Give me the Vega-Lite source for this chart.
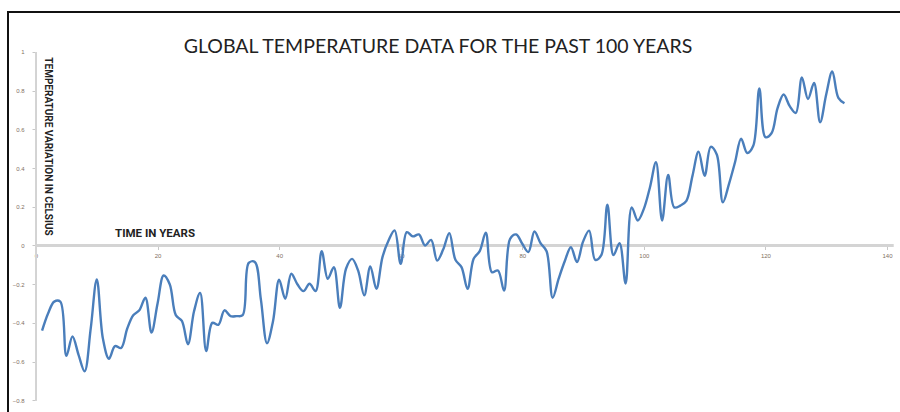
{
  "$schema": "https://vega.github.io/schema/vega-lite/v6.json",
  "width": 900,
  "height": 412,
  "autosize": {"type": "fit", "contains": "padding"},
  "padding": {"left": 8, "top": 12, "right": -2, "bottom": -2},
  "background": "white",
  "config": {
    "view": {"stroke": "#111111", "strokeWidth": 2},
    "axis": {"grid": false, "domain": false, "labelFont": "Liberation Sans", "labelFontSize": 6, "labelColor": "#7f6f62", "tickColor": "#c8c8c8", "tickSize": 4, "titleFont": "Roboto", "titleColor": "#222222"}
  },
  "title": {
    "text": "GLOBAL TEMPERATURE DATA FOR THE PAST 100 YEARS",
    "font": "Lato",
    "fontSize": 19.5,
    "fontWeight": "normal",
    "color": "#222222",
    "anchor": "middle",
    "baseline": "alphabetic",
    "offset": -60,
    "dx": -17
  },
  "data": {
    "values": [
      {"year": 1, "temp": -0.44}, {"year": 2, "temp": -0.35}, {"year": 3, "temp": -0.29}, {"year": 4, "temp": -0.29},
      {"year": 5, "temp": -0.57}, {"year": 6, "temp": -0.47}, {"year": 7, "temp": -0.565}, {"year": 8, "temp": -0.65},
      {"year": 9, "temp": -0.43}, {"year": 10, "temp": -0.175}, {"year": 11, "temp": -0.48}, {"year": 12, "temp": -0.585},
      {"year": 13, "temp": -0.52}, {"year": 14, "temp": -0.53}, {"year": 15, "temp": -0.43}, {"year": 16, "temp": -0.36},
      {"year": 17, "temp": -0.335}, {"year": 18, "temp": -0.27}, {"year": 19, "temp": -0.45}, {"year": 20, "temp": -0.3},
      {"year": 21, "temp": -0.155}, {"year": 22, "temp": -0.2}, {"year": 23, "temp": -0.36}, {"year": 24, "temp": -0.39},
      {"year": 25, "temp": -0.51}, {"year": 26, "temp": -0.34}, {"year": 27, "temp": -0.245}, {"year": 28, "temp": -0.545},
      {"year": 29, "temp": -0.4}, {"year": 30, "temp": -0.41}, {"year": 31, "temp": -0.335}, {"year": 32, "temp": -0.365},
      {"year": 33, "temp": -0.365}, {"year": 34, "temp": -0.36}, {"year": 35, "temp": -0.09}, {"year": 36, "temp": -0.085},
      {"year": 37, "temp": -0.28}, {"year": 38, "temp": -0.505}, {"year": 39, "temp": -0.39}, {"year": 40, "temp": -0.177},
      {"year": 41, "temp": -0.275}, {"year": 42, "temp": -0.146}, {"year": 43, "temp": -0.2}, {"year": 44, "temp": -0.236},
      {"year": 45, "temp": -0.198}, {"year": 46, "temp": -0.236}, {"year": 47, "temp": -0.029}, {"year": 48, "temp": -0.172},
      {"year": 49, "temp": -0.112}, {"year": 50, "temp": -0.322}, {"year": 51, "temp": -0.12}, {"year": 52, "temp": -0.069},
      {"year": 53, "temp": -0.13}, {"year": 54, "temp": -0.258}, {"year": 55, "temp": -0.108}, {"year": 56, "temp": -0.224},
      {"year": 57, "temp": -0.06}, {"year": 58, "temp": 0.026}, {"year": 59, "temp": 0.078}, {"year": 60, "temp": -0.095},
      {"year": 61, "temp": 0.069}, {"year": 62, "temp": 0.047}, {"year": 63, "temp": 0.057}, {"year": 64, "temp": 0.0},
      {"year": 65, "temp": 0.029}, {"year": 66, "temp": -0.078}, {"year": 67, "temp": -0.02}, {"year": 68, "temp": 0.064},
      {"year": 69, "temp": -0.074}, {"year": 70, "temp": -0.112}, {"year": 71, "temp": -0.224}, {"year": 72, "temp": -0.069},
      {"year": 73, "temp": -0.029}, {"year": 74, "temp": 0.066}, {"year": 75, "temp": -0.138}, {"year": 76, "temp": -0.129},
      {"year": 77, "temp": -0.233}, {"year": 78, "temp": 0.034}, {"year": 79, "temp": 0.057}, {"year": 80, "temp": 0.009},
      {"year": 81, "temp": -0.034}, {"year": 82, "temp": 0.072}, {"year": 83, "temp": 0.012}, {"year": 84, "temp": -0.03},
      {"year": 85, "temp": -0.27}, {"year": 86, "temp": -0.17}, {"year": 87, "temp": -0.08}, {"year": 88, "temp": -0.009},
      {"year": 89, "temp": -0.086}, {"year": 90, "temp": 0.02}, {"year": 91, "temp": 0.077}, {"year": 92, "temp": -0.074},
      {"year": 93, "temp": -0.05}, {"year": 94, "temp": 0.211}, {"year": 95, "temp": -0.05}, {"year": 96, "temp": 0.012},
      {"year": 97, "temp": -0.197}, {"year": 98, "temp": 0.197}, {"year": 99, "temp": 0.129}, {"year": 100, "temp": 0.189},
      {"year": 101, "temp": 0.3}, {"year": 102, "temp": 0.43}, {"year": 103, "temp": 0.129}, {"year": 104, "temp": 0.365},
      {"year": 105, "temp": 0.197}, {"year": 106, "temp": 0.206}, {"year": 107, "temp": 0.231}, {"year": 108, "temp": 0.36},
      {"year": 109, "temp": 0.485}, {"year": 110, "temp": 0.36}, {"year": 111, "temp": 0.51}, {"year": 112, "temp": 0.47},
      {"year": 113, "temp": 0.223}, {"year": 114, "temp": 0.317}, {"year": 115, "temp": 0.43}, {"year": 116, "temp": 0.552},
      {"year": 117, "temp": 0.478}, {"year": 118, "temp": 0.515}, {"year": 119, "temp": 0.812}, {"year": 120, "temp": 0.56},
      {"year": 121, "temp": 0.58}, {"year": 122, "temp": 0.71}, {"year": 123, "temp": 0.78}, {"year": 124, "temp": 0.72},
      {"year": 125, "temp": 0.685}, {"year": 126, "temp": 0.868}, {"year": 127, "temp": 0.757}, {"year": 128, "temp": 0.84},
      {"year": 129, "temp": 0.637}, {"year": 130, "temp": 0.78}, {"year": 131, "temp": 0.9}, {"year": 132, "temp": 0.763},
      {"year": 133, "temp": 0.735}
    ]
  },
  "layer": [
    {
      "mark": {"type": "rule", "color": "#d4d4d4", "strokeWidth": 1.8},
      "encoding": {
        "y": {"datum": 0, "type": "quantitative"},
        "x": {"datum": 0, "type": "quantitative"},
        "x2": {"datum": 141}
      }
    },
    {
      "mark": {"type": "rule", "color": "#d4d4d4", "strokeWidth": 1.2},
      "encoding": {
        "x": {"datum": 0, "type": "quantitative"},
        "y": {"datum": -0.8, "type": "quantitative"},
        "y2": {"datum": 1}
      }
    },
    {
      "mark": {"type": "line", "color": "#4a7ebb", "strokeWidth": 2.4, "interpolate": "catmull-rom"},
      "encoding": {
        "x": {
          "field": "year",
          "type": "quantitative",
          "scale": {"domain": [-4.606, 142.47], "nice": false, "zero": false},
          "axis": {
            "orient": "bottom",
            "offset": -168.5,
            "values": [0, 20, 40, 60, 80, 100, 120, 140],
            "labelPadding": 3,
            "title": "TIME IN YEARS",
            "titleFontSize": 11.5,
            "titleFontWeight": "bold",
            "titleX": 146.5,
            "titleY": -12,
            "titleAlign": "center",
            "titleBaseline": "middle"
          }
        },
        "y": {
          "field": "temp",
          "type": "quantitative",
          "scale": {"domain": [-0.8708, 1.2067], "nice": false, "zero": false},
          "axis": {
            "orient": "left",
            "offset": -28,
            "values": [-0.8, -0.6, -0.4, -0.2, 0, 0.2, 0.4, 0.6, 0.8, 1],
            "format": "~g",
            "labelPadding": 8,
            "title": "TEMPERATURE VARIATION IN CELSIUS",
            "titleFontSize": 10,
            "titleFontWeight": "bold",
            "titleAngle": 90,
            "titleX": 11,
            "titleY": 134,
            "titleAlign": "center",
            "titleBaseline": "middle"
          }
        }
      }
    }
  ]
}
